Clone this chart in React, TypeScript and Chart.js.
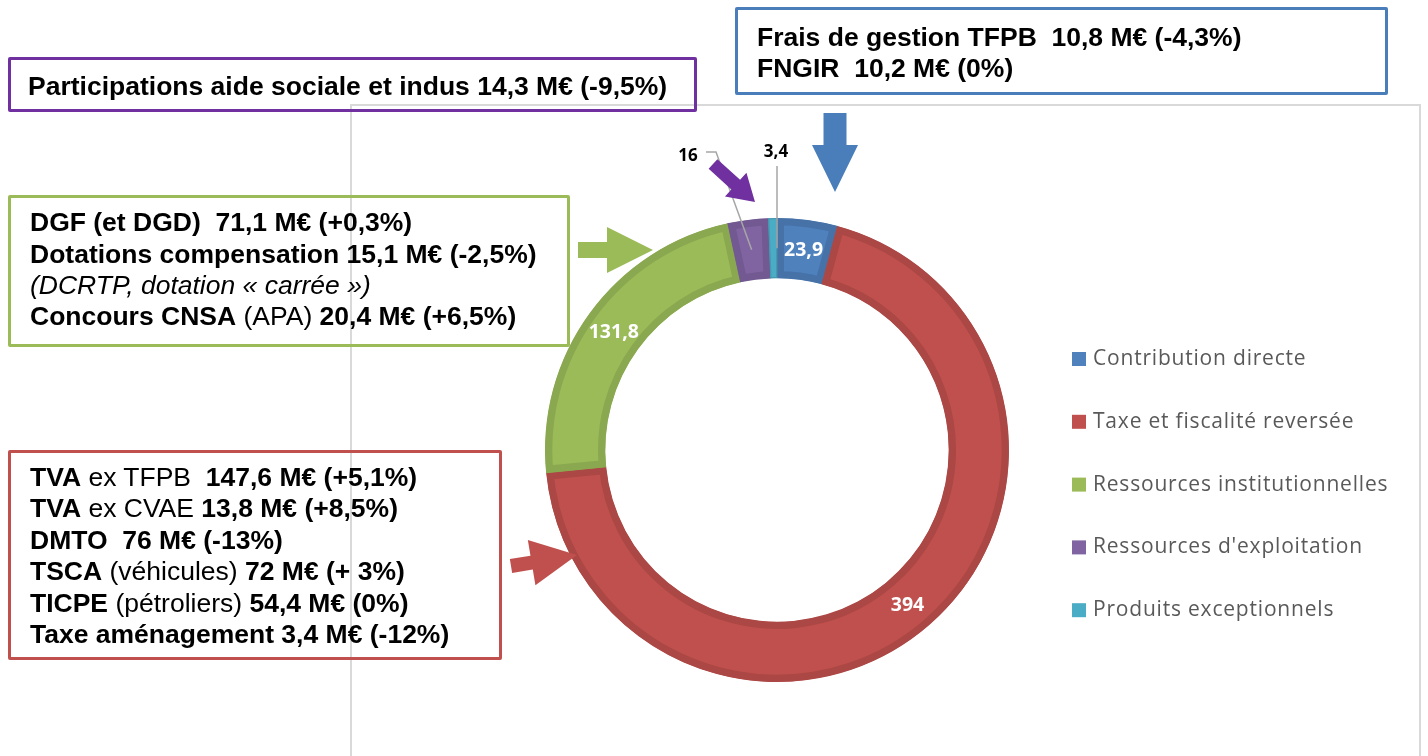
import React, { useEffect, useRef } from "react";
import { Chart, registerables } from "chart.js";

Chart.register(...registerables);

// ---- data ----
const categories = [
  "Contribution directe",
  "Taxe et fiscalité reversée",
  "Ressources institutionnelles",
  "Ressources d'exploitation",
  "Produits exceptionnels",
];
const values = [23.9, 394, 131.8, 16, 3.4];
const valueLabels = ["23,9", "394", "131,8", "16", "3,4"];
const fillColors = ["#4F81BD", "#C0504D", "#9BBB59", "#8064A2", "#4BACC6"];
const edgeColors = ["#4672A8", "#AB4744", "#8AA84F", "#725991", "#4499B0"];
const edgeWidths = [7, 7, 7, 7, 1];
// outside labels with leader lines
const outsideLabels: Record<number, { lx: number; ly: number; path: number[][] }> = {
  3: { lx: 688, ly: 156, path: [[706, 152], [716, 152]] },
  4: { lx: 776, ly: 152, path: [[777, 166]] },
};

const arrows = [
  { color: "#4A7EBB", s: [835, 113], t: [835, 192], sw: 23, hw: 46, hl: 47 },
  { color: "#7030A0", s: [713, 164], t: [755, 202], sw: 13, hw: 32, hl: 26 },
  { color: "#9BBB59", s: [578, 250], t: [653, 250], sw: 16, hw: 46, hl: 46 },
  { color: "#C0504D", s: [511, 566], t: [577, 555], sw: 14, hw: 46, hl: 46 },
];

const CX = 777;
const CY = 450;
const R = 232;
const W = 1428;
const H = 756;

const boxFont = '"Liberation Sans", Arial, sans-serif';
const labelFont = '"Open Sans", Lato, sans-serif';

type Seg = { t: string; w?: "b" | "r" | "i" };
type Box = { left: number; top: number; width: number; height: number; color: string; lines: { y: number; segs: Seg[] }[]; x: number };

const boxes: Box[] = [
  {
    left: 8, top: 57, width: 689, height: 55, color: "#7030A0", x: 28,
    lines: [{ y: 86, segs: [{ t: "Participations aide sociale et indus 14,3 M€ (-9,5%)" }] }],
  },
  {
    left: 735, top: 7, width: 653, height: 88, color: "#4A7EBB", x: 757,
    lines: [
      { y: 37, segs: [{ t: "Frais de gestion TFPB  10,8 M€ (-4,3%)" }] },
      { y: 68, segs: [{ t: "FNGIR  10,2 M€ (0%)" }] },
    ],
  },
  {
    left: 8, top: 195, width: 562, height: 152, color: "#9BBB59", x: 30,
    lines: [
      { y: 222, segs: [{ t: "DGF (et DGD)  71,1 M€ (+0,3%)" }] },
      { y: 254, segs: [{ t: "Dotations compensation 15,1 M€ (-2,5%)" }] },
      { y: 285, segs: [{ t: "(DCRTP, dotation « carrée »)", w: "i" }] },
      { y: 316, segs: [{ t: "Concours CNSA" }, { t: " (APA) ", w: "r" }, { t: "20,4 M€ (+6,5%)" }] },
    ],
  },
  {
    left: 8, top: 450, width: 494, height: 210, color: "#C0504D", x: 30,
    lines: [
      { y: 477, segs: [{ t: "TVA" }, { t: " ex TFPB  ", w: "r" }, { t: "147,6 M€ (+5,1%)" }] },
      { y: 508, segs: [{ t: "TVA" }, { t: " ex CVAE ", w: "r" }, { t: "13,8 M€ (+8,5%)" }] },
      { y: 540, segs: [{ t: "DMTO  76 M€ (-13%)" }] },
      { y: 571, segs: [{ t: "TSCA" }, { t: " (véhicules) ", w: "r" }, { t: "72 M€ (+ 3%)" }] },
      { y: 603, segs: [{ t: "TICPE" }, { t: " (pétroliers) ", w: "r" }, { t: "54,4 M€ (0%)" }] },
      { y: 634, segs: [{ t: "Taxe aménagement 3,4 M€ (-12%)" }] },
    ],
  },
];

function drawArrow(ctx: CanvasRenderingContext2D, a: (typeof arrows)[number]) {
  const [sx, sy] = a.s;
  const [tx, ty] = a.t;
  const len = Math.hypot(tx - sx, ty - sy);
  const dx = (tx - sx) / len;
  const dy = (ty - sy) / len;
  const nx = -dy;
  const ny = dx;
  const bx = tx - dx * a.hl;
  const by = ty - dy * a.hl;
  ctx.beginPath();
  ctx.moveTo(sx + (nx * a.sw) / 2, sy + (ny * a.sw) / 2);
  ctx.lineTo(bx + (nx * a.sw) / 2, by + (ny * a.sw) / 2);
  ctx.lineTo(bx + (nx * a.hw) / 2, by + (ny * a.hw) / 2);
  ctx.lineTo(tx, ty);
  ctx.lineTo(bx - (nx * a.hw) / 2, by - (ny * a.hw) / 2);
  ctx.lineTo(bx - (nx * a.sw) / 2, by - (ny * a.sw) / 2);
  ctx.lineTo(sx - (nx * a.sw) / 2, sy - (ny * a.sw) / 2);
  ctx.closePath();
  ctx.fillStyle = a.color;
  ctx.fill();
}

const decorPlugin = {
  id: "decor",
  afterDraw(chart: any) {
    const ctx: CanvasRenderingContext2D = chart.ctx;
    const meta = chart.getDatasetMeta(0);
    ctx.save();
    meta.data.forEach((arc: any, i: number) => {
      const p = arc.getProps(["x", "y", "startAngle", "endAngle", "innerRadius", "outerRadius"], true);
      const mid = (p.startAngle + p.endAngle) / 2;
      const mr = (p.innerRadius + p.outerRadius) / 2;
      const ax = p.x + Math.cos(mid) * mr;
      const ay = p.y + Math.sin(mid) * mr;
      const out = outsideLabels[i];
      ctx.textAlign = "center";
      ctx.textBaseline = "middle";
      if (!out) {
        ctx.font = `bold 19.5px ${labelFont}`;
        ctx.fillStyle = "#FFFFFF";
        ctx.fillText(valueLabels[i], ax, ay + 1);
      } else {
        ctx.strokeStyle = "#A6A6A6";
        ctx.lineWidth = 1.5;
        ctx.beginPath();
        out.path.forEach((pt, k) => (k === 0 ? ctx.moveTo(pt[0], pt[1]) : ctx.lineTo(pt[0], pt[1])));
        ctx.lineTo(out.path.length > 1 ? ax : out.path[0][0], ay);
        ctx.stroke();
        ctx.font = `bold 17px ${labelFont}`;
        ctx.fillStyle = "#000000";
        ctx.fillText(valueLabels[i], out.lx, out.ly);
      }
    });
    arrows.forEach((a) => drawArrow(ctx, a));
    // legend
    const lx = 1072;
    const ly0 = 359;
    const step = 62.8;
    ctx.textAlign = "left";
    ctx.textBaseline = "middle";
    ctx.font = `21px ${labelFont}`;
    (ctx as any).letterSpacing = "0.8px";
    categories.forEach((c, i) => {
      const y = ly0 + i * step;
      ctx.fillStyle = fillColors[i];
      ctx.fillRect(lx, y - 7, 14, 14);
      ctx.fillStyle = "#595959";
      ctx.fillText(c, lx + 21, y);
    });
    (ctx as any).letterSpacing = "0px";
    ctx.restore();
  },
};

export default function App() {
  const ref = useRef<HTMLCanvasElement>(null);
  useEffect(() => {
    document.body.style.margin = "0";
    const chart = new Chart(ref.current!, {
      type: "doughnut",
      data: {
        labels: categories,
        datasets: [
          {
            data: values,
            backgroundColor: fillColors,
            borderColor: edgeColors,
            borderWidth: edgeWidths,
            borderAlign: "inner",
            hoverOffset: 0,
          } as any,
        ],
      },
      options: {
        responsive: false,
        animation: false,
        devicePixelRatio: 1,
        cutout: "74%",
        rotation: 0,
        layout: {
          padding: { left: CX - R, top: CY - R, right: W - (CX + R), bottom: H - (CY + R) },
        },
        plugins: { legend: { display: false }, tooltip: { enabled: false } },
        events: [],
      },
      plugins: [decorPlugin],
    });
    return () => chart.destroy();
  }, []);

  return (
    <div style={{ position: "fixed", left: 0, top: 0, width: W, height: H, background: "#fff", overflow: "hidden" }}>
      <div
        style={{
          position: "absolute",
          left: 350,
          top: 104,
          width: 1071,
          height: 700,
          border: "2px solid #D9D9D9",
          boxSizing: "border-box",
        }}
      />
      <canvas ref={ref} width={W} height={H} style={{ position: "absolute", left: 0, top: 0, width: W, height: H }} />
      {boxes.map((b, bi) => (
        <React.Fragment key={bi}>
          <div
            style={{
              position: "absolute",
              left: b.left,
              top: b.top,
              width: b.width,
              height: b.height,
              border: `3px solid ${b.color}`,
              boxSizing: "border-box",
              borderRadius: 2,
            }}
          />
          {b.lines.map((ln, li) => (
            <div
              key={li}
              style={{
                position: "absolute",
                left: b.x,
                top: ln.y - 16,
                height: 32,
                lineHeight: "32px",
                fontFamily: boxFont,
                fontSize: 26.5,
                color: "#000",
                whiteSpace: "pre",
              }}
            >
              {ln.segs.map((s, si) => (
                <span
                  key={si}
                  style={{
                    fontWeight: s.w === "r" || s.w === "i" ? 400 : 700,
                    fontStyle: s.w === "i" ? "italic" : "normal",
                  }}
                >
                  {s.t}
                </span>
              ))}
            </div>
          ))}
        </React.Fragment>
      ))}
    </div>
  );
}
